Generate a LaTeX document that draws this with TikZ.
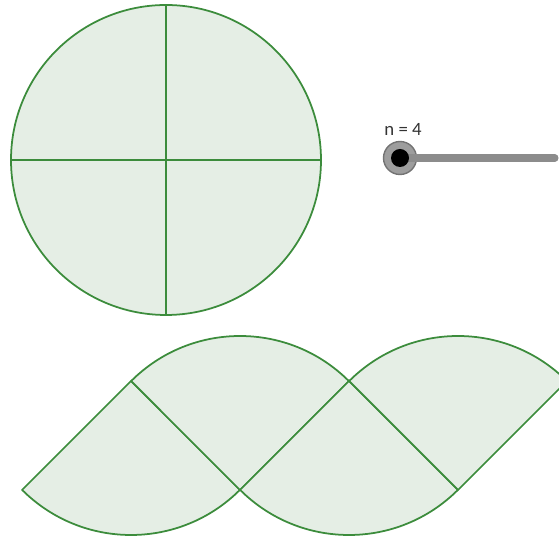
\documentclass[tikz,border=0pt]{standalone}
\usepackage{fontspec}
\setsansfont{Carlito}
\usepackage{tikz}
\usetikzlibrary{positioning}
\definecolor{sectorline}{RGB}{60, 140, 60}
\definecolor{sectorfill}{RGB}{229, 238, 229}
\definecolor{slidergray}{RGB}{140, 140, 140}

\begin{document}
\begin{tikzpicture}[
    x=0.03cm, y=0.03cm,
    sector/.style={draw=sectorline, fill=sectorfill, line width=1.5pt, line join=round},
    cut/.style={draw=sectorline, line width=1.5pt}
  ]

  \useasboundingbox (0,0) rectangle (559,540);
  \clip (0,0) rectangle (559,540);

  % Circle
  \filldraw[sector] (166,380) circle[radius=155];
  \draw[cut] (11,380) -- (321,380);
  \draw[cut] (166,225) -- (166,535);

  % Rearranged sectors
  \foreach \ax/\ay/\a in {131/159/225, 240/50/45, 349/159/225, 458/50/45} {
    \filldraw[sector] (\ax,\ay) -- ++(\a:154) arc[start angle=\a, delta angle=90, radius=154] -- cycle;
  }

  % Slider
  \coordinate (send) at (555,382);
  \node[circle, fill=slidergray!85, draw=black!55, line width=1.2pt, minimum size=33*0.03cm, inner sep=0pt] (knob) at (400,382) {};
  \draw[slidergray, line width=6pt, line cap=round] (knob.center) -- (send);
  \node[circle, fill=black, minimum size=18*0.03cm, inner sep=0pt] (dot) at (knob) {};
  \node[font=\sffamily\fontsize{16}{19}\selectfont, text=black!80] (nlabel) at (403,411) {n = 4};

\end{tikzpicture}
\end{document}
